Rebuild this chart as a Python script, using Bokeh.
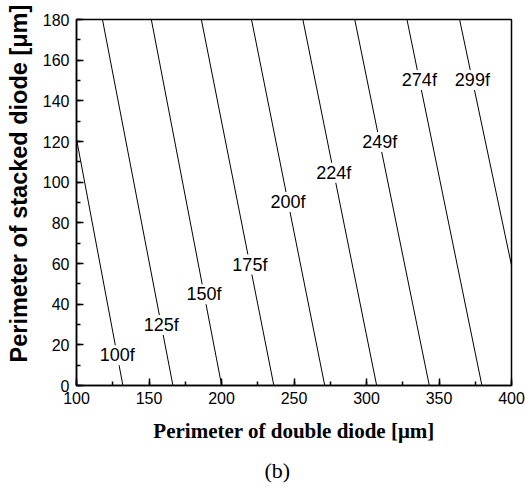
from bokeh.plotting import figure
from bokeh.models import (Range1d, SingleIntervalTicker, ColumnDataSource,
                          LabelSet, Title)
from bokeh.core.properties import value
from bokeh.embed import file_html
from bokeh.resources import INLINE

# Constant-capacitance contours: each is a straight line, given by where it
# crosses stacked-perimeter = 0 and stacked-perimeter = 180
cap_labels = ["100f", "125f", "150f", "175f", "200f", "224f", "249f", "274f", "299f"]
double_at_0 = [132.0, 166.5, 200.1, 236.1, 271.2, 307.0, 343.3, 379.6, 417.5]
double_at_180 = [84.5, 117.9, 151.6, 186.1, 220.7, 256.1, 291.9, 327.9, 364.2]
stacked_span = [0.0, 180.0]
# Height (stacked perimeter) at which each contour carries its label
label_stacked = [14.9, 29.7, 44.9, 59.5, 90.2, 104.6, 119.8, 150.2, 150.2]

x_ticks_interval = 50
y_ticks_interval = 20

p = figure(width=525, height=488, output_backend="svg", toolbar_location=None,
           x_range=Range1d(100, 400), y_range=Range1d(0, 180),
           min_border_left=76, min_border_right=14, min_border_top=19,
           min_border_bottom=103)
p.background_fill_color = "white"
p.border_fill_color = "white"
p.xgrid.visible = False
p.ygrid.visible = False
p.outline_line_color = "black"
p.outline_line_width = 1.5

# contour lines
xs = [[a, b] for a, b in zip(double_at_0, double_at_180)]
ys = [stacked_span[:] for _ in cap_labels]
p.multi_line(xs, ys, line_color="black", line_width=1)

# labels sit on their contour, with a white box breaking the line
lab_x = [a + (b - a) * y / 180.0 for a, b, y in zip(double_at_0, double_at_180, label_stacked)]
src = ColumnDataSource(dict(x=lab_x, y=label_stacked, t=cap_labels))
labels = LabelSet(x="x", y="y", text="t", source=src,
                  text_align="center", text_baseline="middle",
                  text_font=value("Liberation Sans"), text_font_size="18px",
                  text_color="black", background_fill_color="white")
p.add_layout(labels)

for ax in (p.xaxis[0], p.yaxis[0]):
    ax.axis_line_width = 1.5
    ax.axis_line_color = "black"
    ax.major_tick_in = 7
    ax.major_tick_out = 0
    ax.minor_tick_in = 4
    ax.minor_tick_out = 0
    ax.major_tick_line_width = 1.5
    ax.minor_tick_line_width = 1.5
    ax.major_label_text_font = "Liberation Sans"
    ax.major_label_text_font_size = "16px"
    ax.major_label_text_color = "black"

p.xaxis[0].ticker = SingleIntervalTicker(interval=x_ticks_interval, num_minor_ticks=2)
p.yaxis[0].ticker = SingleIntervalTicker(interval=y_ticks_interval, num_minor_ticks=2)
p.xaxis[0].major_label_standoff = 6
p.yaxis[0].major_label_standoff = 7

# vertical axis title
ylab = Title(text="Perimeter of stacked diode [\u03bcm]", align="left", offset=23,
             standoff=11, vertical_align="top",
             text_font="Liberation Sans", text_font_style="bold",
             text_font_size="23.5px", text_color="black")
p.add_layout(ylab, "left")

# horizontal axis title
xlab = Title(text="Perimeter of double diode [\u03bcm]", align="center",
             standoff=25, vertical_align="top",
             text_font="Liberation Serif", text_font_style="bold",
             text_font_size="21px", text_color="black")
p.add_layout(xlab, "below")

# panel tag
sub = Title(text="(b)", align="left", offset=188, standoff=0, vertical_align="top",
            text_font="Liberation Serif", text_font_style="normal",
            text_font_size="22px", text_color="black")
p.add_layout(sub, "below")

open("out.html", "w").write(file_html(p, INLINE))
